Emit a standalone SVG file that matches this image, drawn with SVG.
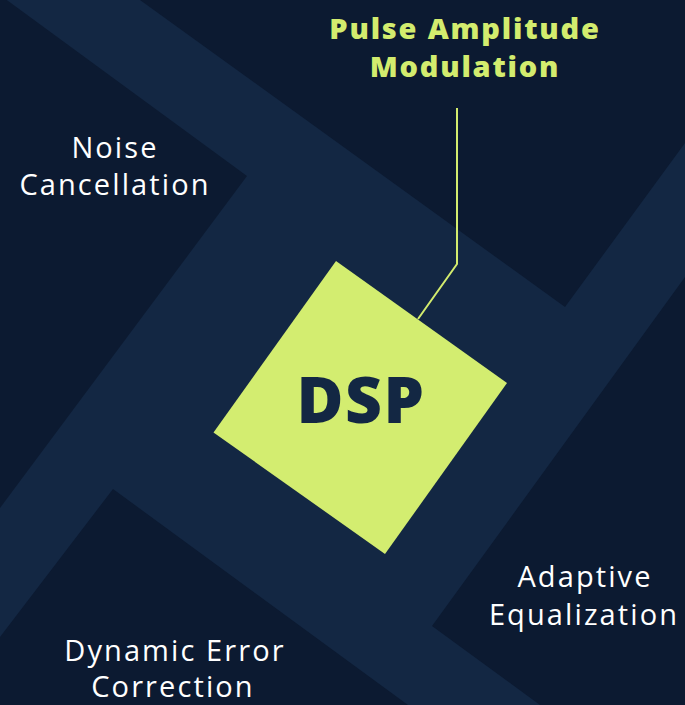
<svg xmlns="http://www.w3.org/2000/svg" width="685" height="705" viewBox="0 0 685 705">
  <style>
    .dark { fill: #0c1a31; }
    .label { fill: #ffffff; font-family: "Open Sans", "Noto Sans", sans-serif; font-size: 29px; font-weight: 400; letter-spacing: 2.1px; text-anchor: middle; }
    .title { fill: #d3ec6e; font-family: "Open Sans", "Noto Sans", sans-serif; font-size: 29px; font-weight: 800; letter-spacing: 1.8px; text-anchor: middle; }
    .core { fill: #132743; font-family: "Open Sans", "Noto Sans", sans-serif; font-size: 64px; font-weight: 800; letter-spacing: 1.5px; text-anchor: middle; }
    .conn { fill: none; stroke: #d3ec6e; stroke-width: 2; }
  </style>
  <g id="background">
    <rect x="0" y="0" width="685" height="705" fill="#132743"/>
    <polygon class="dark" points="140,0 685,0 685,143 565,307"/>
    <polygon class="dark" points="0,-5 247,176 0,508"/>
    <polygon class="dark" points="113,489 408,705 0,705 0,637"/>
    <polygon class="dark" points="432,626 685,277 685,705 540,705"/>
  </g>
  <g id="connectors">
    <polyline class="conn" points="457,108 457,264 418,319"/>
  </g>
  <g id="dsp">
    <polygon points="336,261 507,383 385,554 213.5,432.5" fill="#d3ed70"/>
    <text class="core" x="361" y="423">DSP</text>
  </g>
  <g id="pulse-amplitude-modulation">
    <text class="title" x="465" y="39">Pulse Amplitude</text>
    <text class="title" x="465" y="77">Modulation</text>
  </g>
  <g id="noise-cancellation">
    <text class="label" x="115" y="158">Noise</text>
    <text class="label" x="115" y="195">Cancellation</text>
  </g>
  <g id="adaptive-equalization">
    <text class="label" x="585" y="587">Adaptive</text>
    <text class="label" x="584" y="625">Equalization</text>
  </g>
  <g id="dynamic-error-correction">
    <text class="label" x="175" y="661">Dynamic Error</text>
    <text class="label" x="173" y="697">Correction</text>
  </g>
</svg>
